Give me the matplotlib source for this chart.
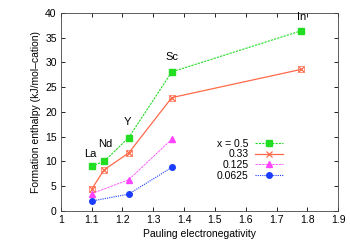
import matplotlib.pyplot as plt

plt.rcParams['font.family'] = ['Liberation Sans', 'DejaVu Sans']

# Pauling electronegativity of the cations
en_all = [1.10, 1.14, 1.22, 1.36, 1.78]
en_part = [1.10, 1.22, 1.36]
names = ['La', 'Nd', 'Y', 'Sc', 'In']
name_x = [1.097, 1.143, 1.217, 1.361, 1.78]
name_y = [11.5, 13.5, 18.0, 31.1, 39.2]

h_05 = [9.1, 10.0, 14.8, 28.1, 36.4]
h_033 = [4.4, 8.3, 11.7, 22.9, 28.6]
h_0125 = [3.5, 6.3, 14.5]
h_00625 = [2.0, 3.4, 8.8]
labels = ['x = 0.5', '0.33', '0.125', '0.0625']

fig = plt.figure(figsize=(3.5, 2.45), dpi=100)
ax = fig.add_axes([0.174, 0.139, 0.792, 0.808])

l1, = ax.plot(en_all, h_05, color='#22dd22', ls=(0, (2, 1)), lw=0.8, marker='s', ms=4)
l2, = ax.plot(en_all, h_033, color='#ff6a4a', ls='-', lw=0.9, marker='x', ms=4, mew=0.9)
ax.plot(en_all, h_033, color='#ff6a4a', ls='none', marker='s', ms=4.5,
        mfc='none', mew=0.5)
l3, = ax.plot(en_part, h_0125, color='#ff44ff', ls=(0, (3, 1)), lw=0.6, marker='^', ms=4)
l4, = ax.plot(en_part, h_00625, color='#1a3cff', ls=(0, (1, 1)), lw=0.8, marker='o', ms=4)

for xv, yv, nm in zip(name_x, name_y, names):
    ax.text(xv, yv, nm, fontsize=8, ha='center', va='center')

ax.set_xlim(1, 1.9)
ax.set_ylim(0, 40)
ax.set_xticks([1, 1.1, 1.2, 1.3, 1.4, 1.5, 1.6, 1.7, 1.8, 1.9])
ax.set_xticklabels(['1', '1.1', '1.2', '1.3', '1.4', '1.5', '1.6', '1.7', '1.8', '1.9'])
ax.set_yticks(range(0, 41, 5))
ax.tick_params(direction='in', top=True, right=True, labelsize=7.5, length=3,
               width=0.6, pad=3)
for s in ax.spines.values():
    s.set_linewidth(0.6)
    s.set_color('#444444')

ax.set_xlabel('Pauling electronegativity', fontsize=7.5, labelpad=3)
ax.set_ylabel('Formation enthalpy (kJ/mol\u2013cation)', fontsize=7.5, labelpad=3)

# gnuplot-style key: labels right aligned to the left of the samples
leg = ax.legend([l1, l2, l3, l4], labels, loc='upper left',
                bbox_to_anchor=(0.68, 0.39), frameon=False, fontsize=7.5,
                handlelength=2.7, handletextpad=0.5, labelspacing=0.05, borderpad=0)
fig.canvas.draw()
inv = fig.transFigure.inverted()
hx = leg.get_window_extent().x0
for t in leg.get_texts():
    bb = t.get_window_extent()
    t.set_color('none')
    xf, yf = inv.transform((hx - 6, (bb.y0 + bb.y1) / 2))
    fig.text(xf, yf, t.get_text(), fontsize=7.5, ha='right', va='center')

fig.savefig('out.png', dpi=100)
